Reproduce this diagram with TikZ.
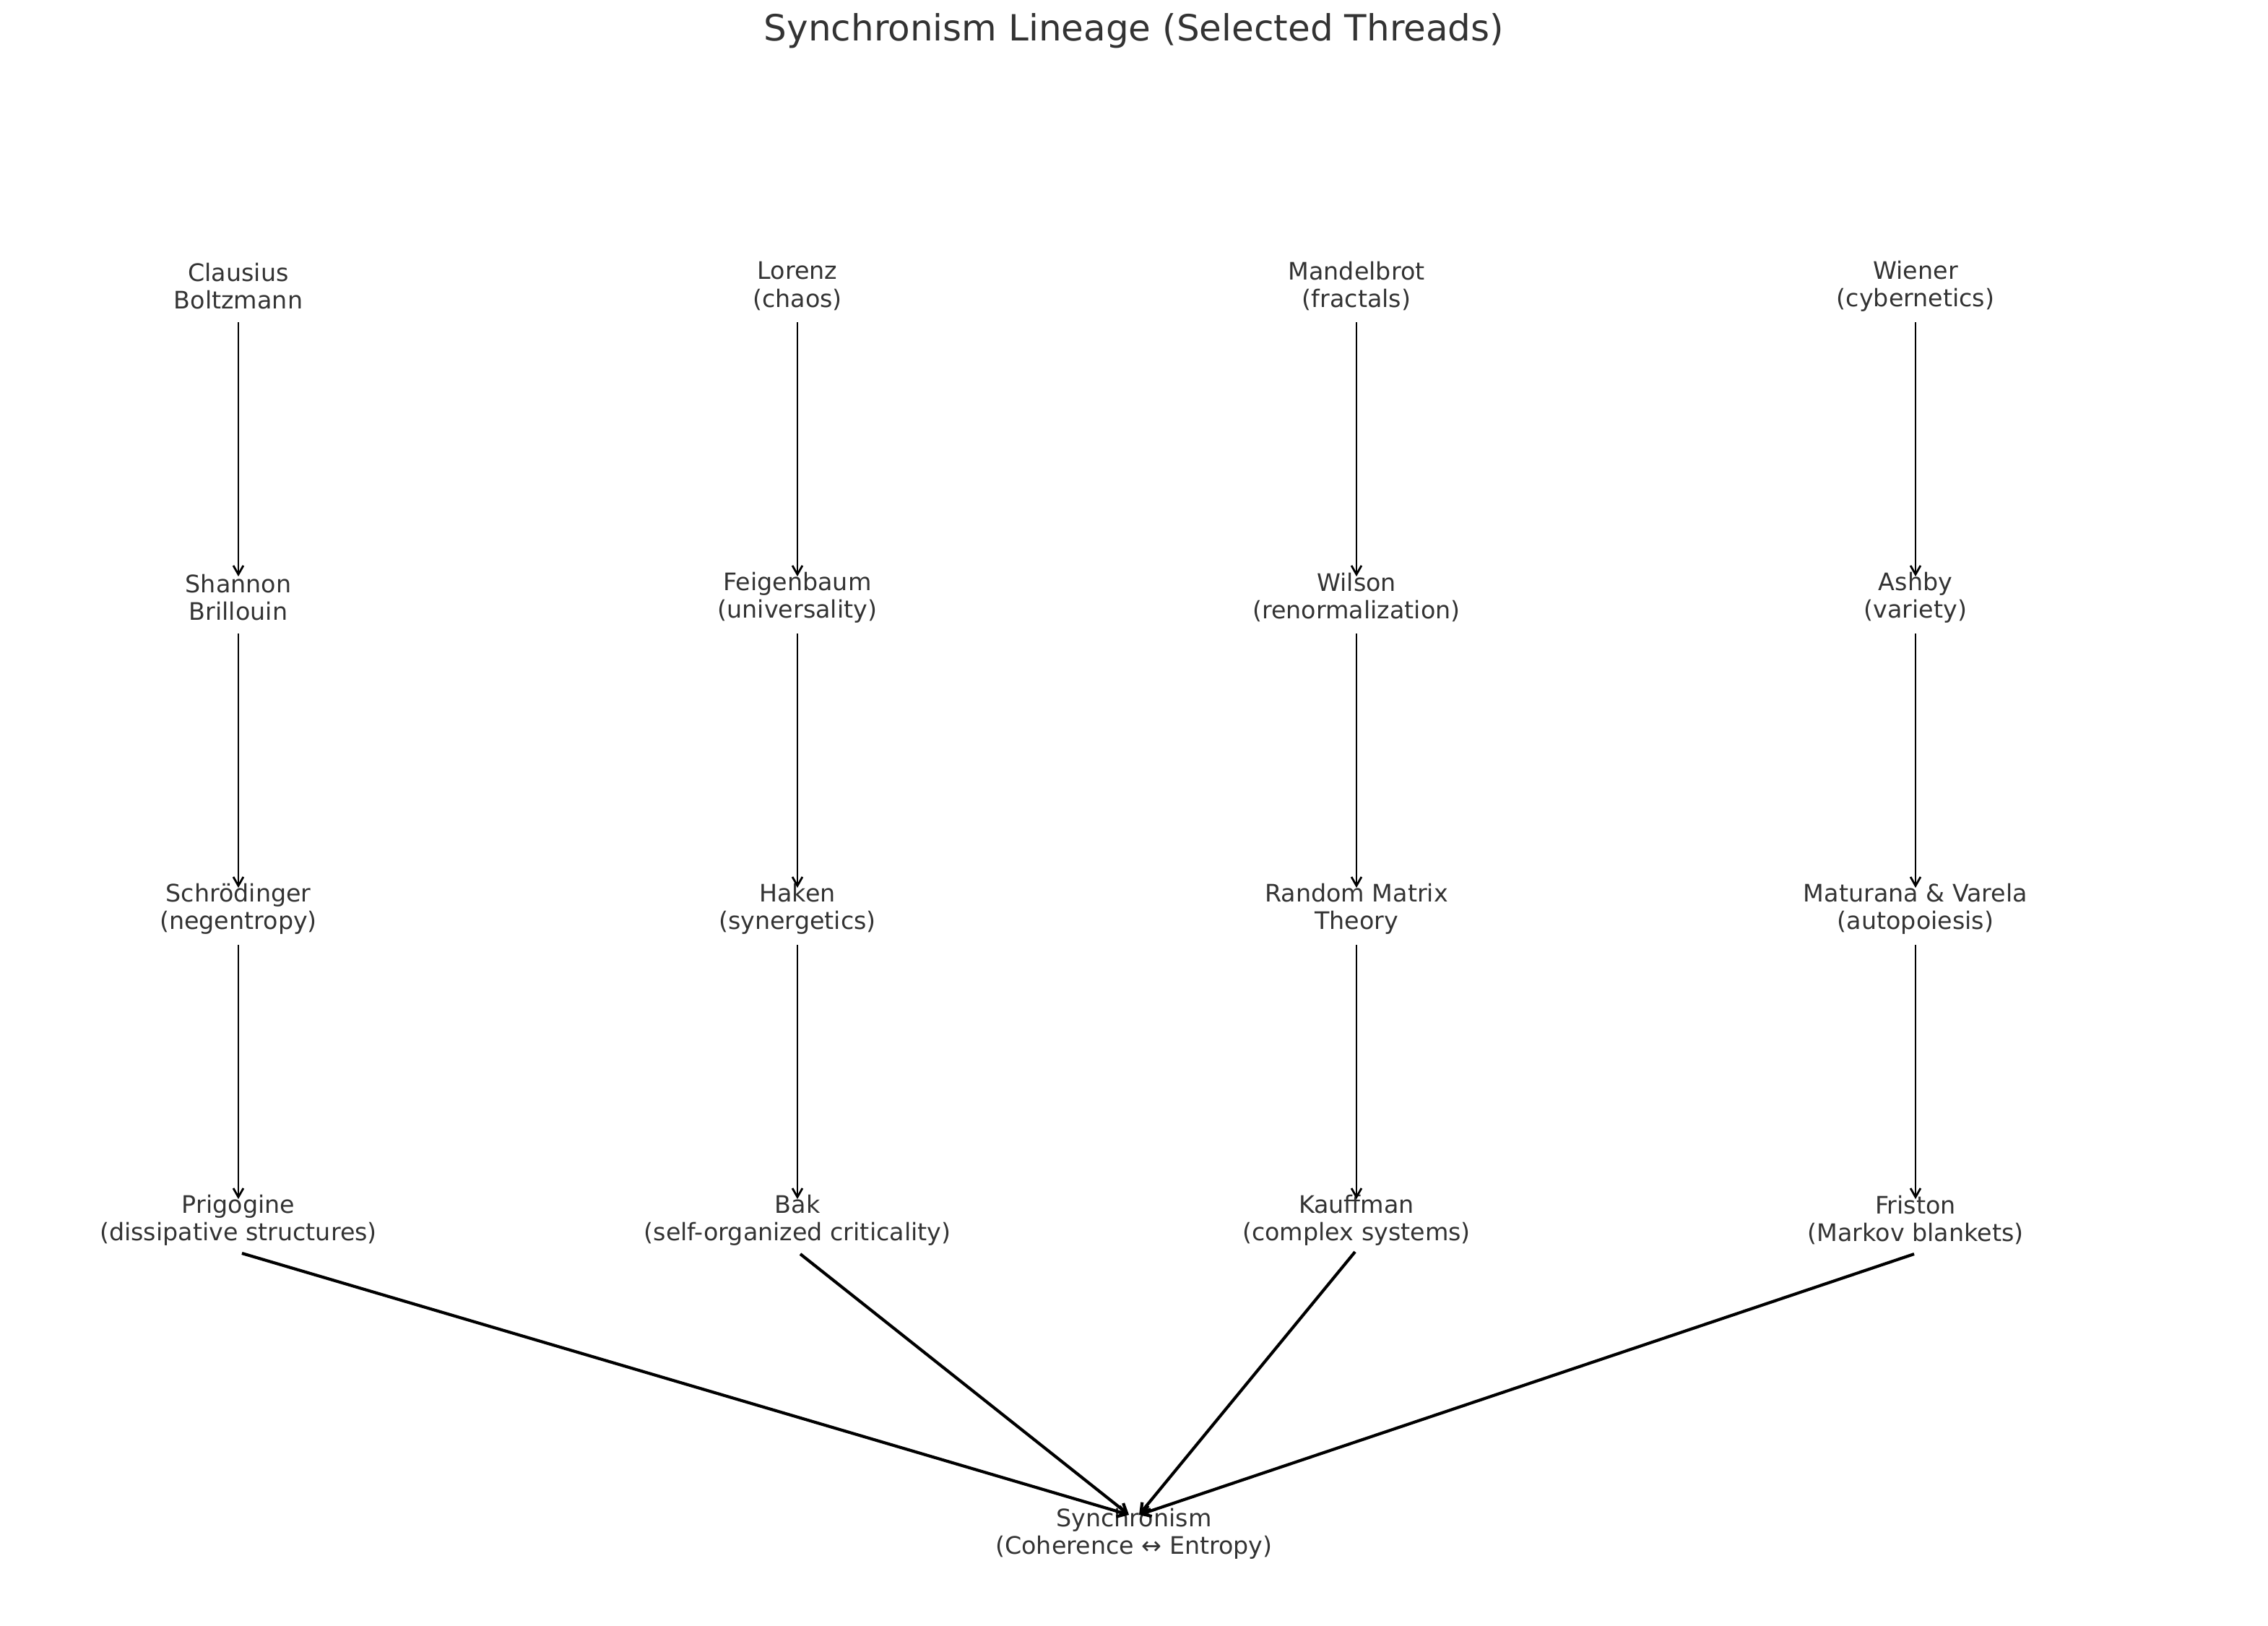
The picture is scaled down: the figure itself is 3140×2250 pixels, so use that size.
\documentclass[tikz,border=0pt]{standalone}
\usepackage{fontspec}
\setmainfont{DejaVu Sans}
\usetikzlibrary{arrows.meta,calc}
\definecolor{txt}{RGB}{51,51,51}
\begin{document}
\begin{tikzpicture}[x=0.36pt,y=-0.36pt,
  lbl/.style={font=\fontsize{12}{13.7}\selectfont, text=txt, align=center, inner sep=0pt},
  ttl/.style={font=\fontsize{18}{21.6}\selectfont, text=txt, inner sep=0pt},
  varrow/.style={-{Straight Barb[length=4.4pt,width=5pt]}, line width=1pt, black},
  darrow/.style={-{Straight Barb[length=4.4pt,width=5.5pt]}, line width=1.5pt, black}]
\useasboundingbox (0,0) rectangle (3140,2250);
\node[ttl] (title) at (1570,43) {Synchronism Lineage (Selected Threads)};
% column 1
\node[lbl] (a1) at (330,396)  {Clausius\\Boltzmann};
\node[lbl] (a2) at (330,827)  {Shannon\\Brillouin};
\node[lbl] (a3) at (330,1258) {Schrödinger\\(negentropy)};
\node[lbl] (a4) at (330,1689) {Prigogine\\(dissipative structures)};
% column 2
\node[lbl] (b1) at (1104,396)  {Lorenz\\(chaos)};
\node[lbl] (b2) at (1104,827)  {Feigenbaum\\(universality)};
\node[lbl] (b3) at (1104,1258) {Haken\\(synergetics)};
\node[lbl] (b4) at (1104,1689) {Bak\\(self-organized criticality)};
% column 3
\node[lbl] (c1) at (1878,396)  {Mandelbrot\\(fractals)};
\node[lbl] (c2) at (1878,827)  {Wilson\\(renormalization)};
\node[lbl] (c3) at (1878,1258) {Random Matrix\\Theory};
\node[lbl] (c4) at (1878,1689) {Kauffman\\(complex systems)};
% column 4
\node[lbl] (d1) at (2652,396)  {Wiener\\(cybernetics)};
\node[lbl] (d2) at (2652,827)  {Ashby\\(variety)};
\node[lbl] (d3) at (2652,1258) {Maturana \& Varela\\(autopoiesis)};
\node[lbl] (d4) at (2652,1689) {Friston\\(Markov blankets)};
% sink
\node[lbl] (s) at (1570,2123) {Synchronism\\(Coherence ↔ Entropy)};
% vertical arrows
\foreach \c in {a,b,c,d}{
  \draw[varrow] ($(\c1.center)+(0,50)$) -- ($(\c2.center)+(0,-29)$);
  \draw[varrow] ($(\c2.center)+(0,50)$) -- ($(\c3.center)+(0,-29)$);
  \draw[varrow] ($(\c3.center)+(0,50)$) -- ($(\c4.center)+(0,-29)$);
}
% converging arrows
\coordinate (sL) at ($(s.center)+(-7,-26)$);
\coordinate (sR) at ($(s.center)+(7,-26)$);
\draw[darrow] ($(a4.center)+(5,46)$) -- (sL);
\draw[darrow] ($(b4.center)+(4,47)$) -- (sL);
\draw[darrow] ($(c4.center)+(-2,44)$) -- (sR);
\draw[darrow] ($(d4.center)+(-2,47)$) -- (sR);
\end{tikzpicture}
\end{document}
